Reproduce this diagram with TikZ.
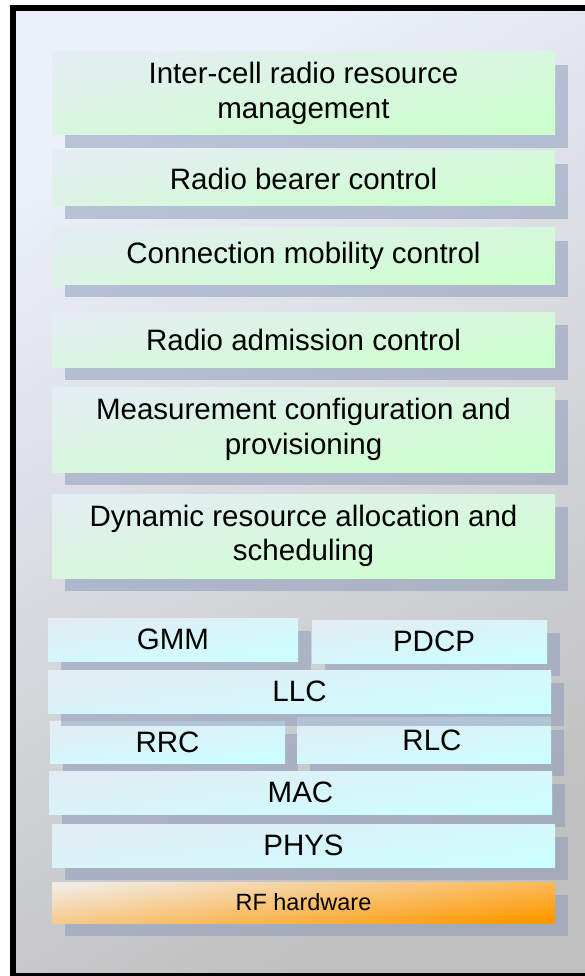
\documentclass[tikz,border=0pt]{standalone}
\usepackage{fontspec}
\setmainfont{Liberation Sans}
\definecolor{framelight}{RGB}{236,240,250}
\definecolor{framegray}{RGB}{192,192,192}
\definecolor{shadowblue}{RGB}{136,152,184}
\definecolor{greenlight}{RGB}{228,238,242}
\definecolor{greenfill}{RGB}{204,255,204}
\definecolor{cyanlight}{RGB}{226,236,244}
\definecolor{cyanfill}{RGB}{204,255,255}
\definecolor{orangelight}{RGB}{242,234,226}
\definecolor{orangefill}{RGB}{255,153,0}
\tikzset{
  layer/.style={inner sep=0pt, align=center, font=\fontsize{29.5}{34.5}\selectfont},
  greenbox/.style={layer, top color=greenlight, bottom color=greenfill, shading angle=9},
  cyanbox/.style={layer, top color=cyanlight, bottom color=cyanfill, shading angle=7},
  rfbox/.style={layer, top color=orangelight, bottom color=orangefill, shading angle=7,
    font=\fontsize{23.5}{28}\selectfont},
  boxshadow/.style={fill=shadowblue, opacity=0.5}
}
\begin{document}
\begin{tikzpicture}[x=1pt, y=-1pt]
      \useasboundingbox (0,0) rectangle (584,976);
      \def \Boxes{
        icrrm/52/52/555/135/greenbox/{Inter-cell radio resource\\management},
        rbc/52/151/555/206/greenbox/{Radio bearer control},
        cmc/52/228/555/284/greenbox/{Connection mobility control},
        rac/52/312/555/367/greenbox/{Radio admission control},
        mcp/52/387/555/472/greenbox/{Measurement configuration and\\provisioning},
        dra/52/494/555/578/greenbox/{Dynamic resource allocation and\\scheduling},
        gmm/48/618/298/661/cyanbox/{GMM},
        pdcp/312/620/547/663/cyanbox/{\hspace*{9pt}PDCP},
        rrc/50/721/285/763/cyanbox/{RRC},
        rlc/297/717/551/763/cyanbox/{\hspace*{16pt}RLC},
        llc/48/670/551/713/cyanbox/{LLC},
        mac/49/771/552/814/cyanbox/{MAC},
        phys/52/824/555/867/cyanbox/{PHYS},
        rf/52/882/555/923/rfbox/{RF hardware}}
      \path[top color=framelight, bottom color=framegray, shading angle=30]
        (13,8) rectangle (600,976);
      \draw[line width=6pt] (13,8) rectangle (600,976);
      \foreach \id / \xa / \ya / \xb / \yb / \st / \lb in \Boxes{
        \fill[boxshadow] ({\xa+13},{\ya+13}) rectangle ({\xb+13},{\yb+13});
        \node[\st, minimum width={(\xb-\xa)*1pt}, minimum height={(\yb-\ya)*1pt}]
          (\id) at ({(\xa+\xb)/2},{(\ya+\yb)/2}) {\lb};
      }
    \end{tikzpicture}
\end{document}
